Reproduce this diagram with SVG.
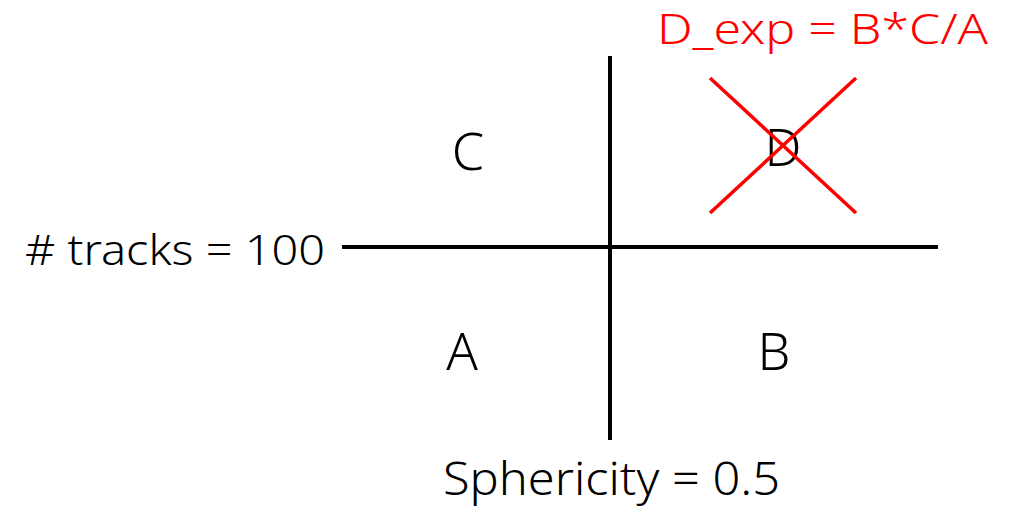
<svg xmlns="http://www.w3.org/2000/svg" width="1015" height="506" viewBox="0 0 1015 506">
<style>
.lbl{font-family:"Noto Sans","DejaVu Sans",sans-serif;font-weight:300;fill:#000}
.red{fill:#ff0000}
.axis{stroke:#000;stroke-width:4;fill:none}
.cross{stroke:#ff0000;stroke-width:3.5;fill:none}
</style>
<rect width="1015" height="506" fill="#fff"/>
<g id="connectors">
<line class="axis" x1="610" y1="56" x2="610" y2="440"/>
<line class="axis" x1="342" y1="247" x2="938" y2="247"/>
</g>
<g id="label-tracks"><text class="lbl" x="25" y="265" font-size="43" textLength="300" lengthAdjust="spacingAndGlyphs">#&#160;tracks = 100</text></g>
<g id="label-sphericity"><text class="lbl" x="443" y="495" font-size="45" textLength="337" lengthAdjust="spacingAndGlyphs">Sphericity = 0.5</text></g>
<g id="node-C"><text class="lbl" x="468" y="170" font-size="52" text-anchor="middle">C</text></g>
<g id="node-A"><text class="lbl" x="462" y="370" font-size="52" text-anchor="middle">A</text></g>
<g id="node-B"><text class="lbl" x="774" y="370" font-size="52" text-anchor="middle">B</text></g>
<g id="node-D">
<text class="lbl" x="783" y="166" font-size="52" text-anchor="middle">D</text>
<line class="cross" x1="710" y1="78" x2="856" y2="213"/>
<line class="cross" x1="856" y1="78" x2="710" y2="213"/>
</g>
<g id="label-dexp"><text class="lbl red" x="657" y="44" font-size="42" textLength="331" lengthAdjust="spacingAndGlyphs">D_exp = B*C/A</text></g>
</svg>
